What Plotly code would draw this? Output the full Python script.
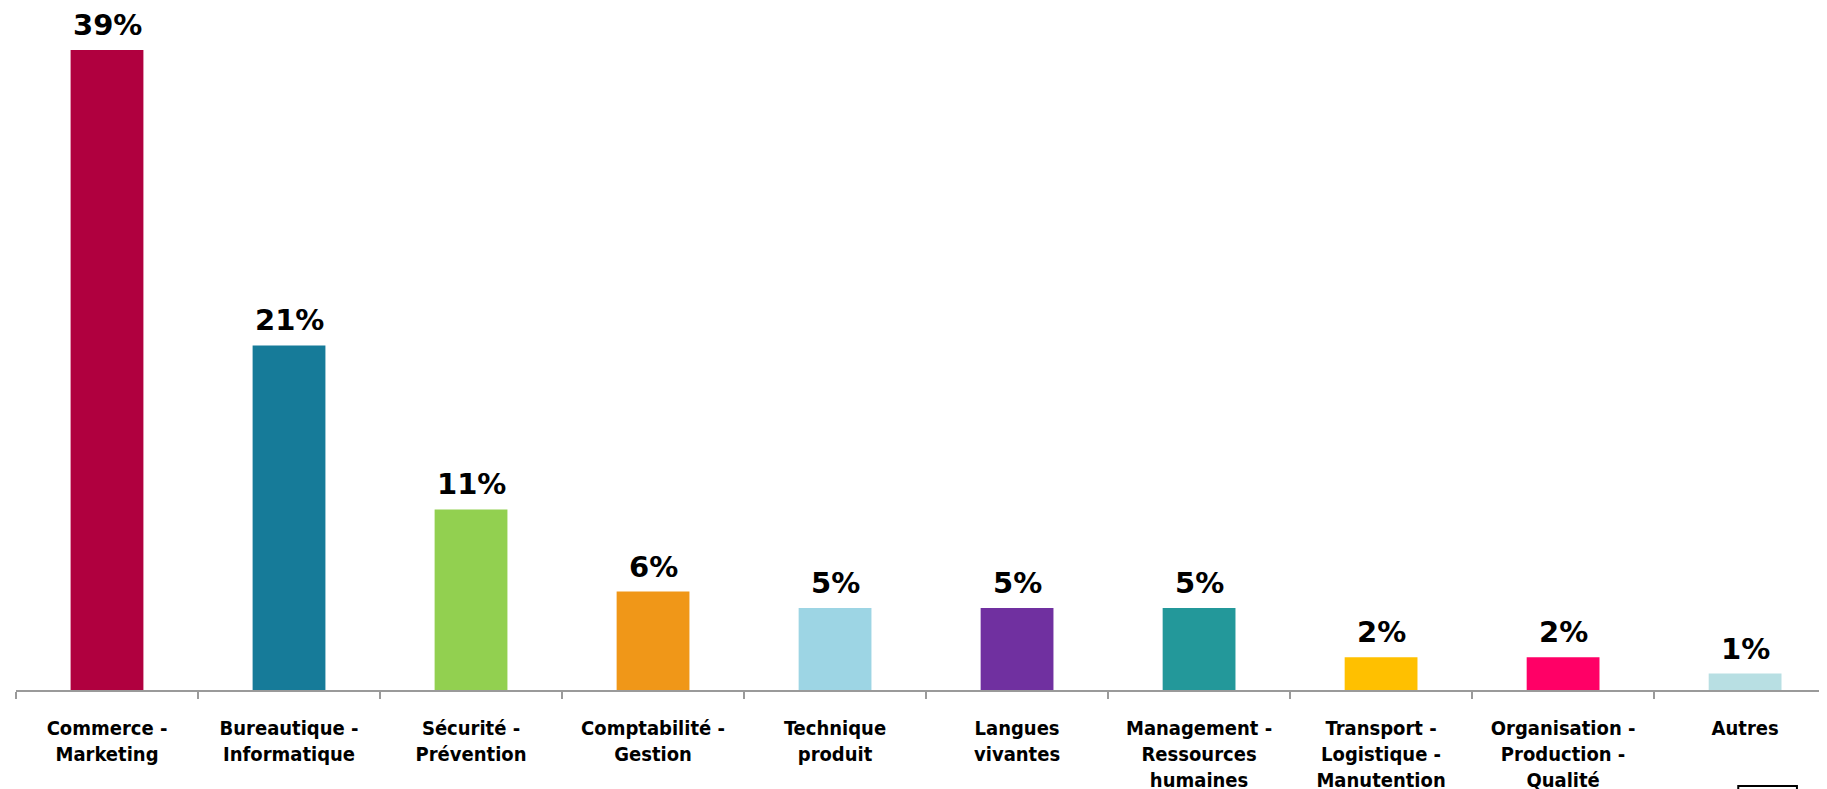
import plotly.graph_objects as go

categories = [
    "Commerce -<br>Marketing",
    "Bureautique -<br>Informatique",
    "Sécurité -<br>Prévention",
    "Comptabilité -<br>Gestion",
    "Technique<br>produit",
    "Langues<br>vivantes",
    "Management -<br>Ressources<br>humaines",
    "Transport -<br>Logistique -<br>Manutention",
    "Organisation -<br>Production -<br>Qualité",
    "Autres",
]
values = [39, 21, 11, 6, 5, 5, 5, 2, 2, 1]
value_labels = ["39%", "21%", "11%", "6%", "5%", "5%", "5%", "2%", "2%", "1%"]
colors = ["#B0003F", "#167B99", "#92D050", "#F09718", "#9DD5E4",
          "#7030A0", "#23989A", "#FFC000", "#FF0066", "#B8DFE3"]

fig = go.Figure()
fig.add_trace(go.Bar(
    x=categories, y=values, width=0.4,
    marker=dict(color=colors, line=dict(width=0)),
    hoverinfo="skip",
))

for c, v, t in zip(categories, values, value_labels):
    fig.add_annotation(
        x=c, y=v, text="<b>%s</b>" % t, showarrow=False,
        yanchor="bottom", yshift=6,
        font=dict(family="DejaVu Sans", size=29, color="black"),
    )

fig.add_shape(type="rect", xref="paper", yref="paper",
              x0=0.951, x1=0.9834, y0=-0.1408, y1=-0.2,
              line=dict(color="black", width=2), fillcolor="white")

fig.update_layout(
    width=1819, height=781,
    margin=dict(l=8, r=0, t=0, b=99, autoexpand=False),
    paper_bgcolor="white", plot_bgcolor="white",
    showlegend=False,
    xaxis=dict(
        type="category",
        range=[-0.5, 9.45],
        automargin=False,
        tickfont=dict(family="DejaVu Sans Condensed, DejaVu Sans", size=20,
                      color="black", weight="bold"),
        ticklabelstandoff=19,
        showline=True, linecolor="#9a9a9a", linewidth=1.5,
        ticks="outside", tickson="boundaries", ticklen=7,
        tickcolor="#9a9a9a", tickwidth=1.5,
        showgrid=False, zeroline=False, fixedrange=True,
    ),
    yaxis=dict(range=[0, 41.56], visible=False, showgrid=False, zeroline=False,
               automargin=False),
)

fig.write_html("out.html")
